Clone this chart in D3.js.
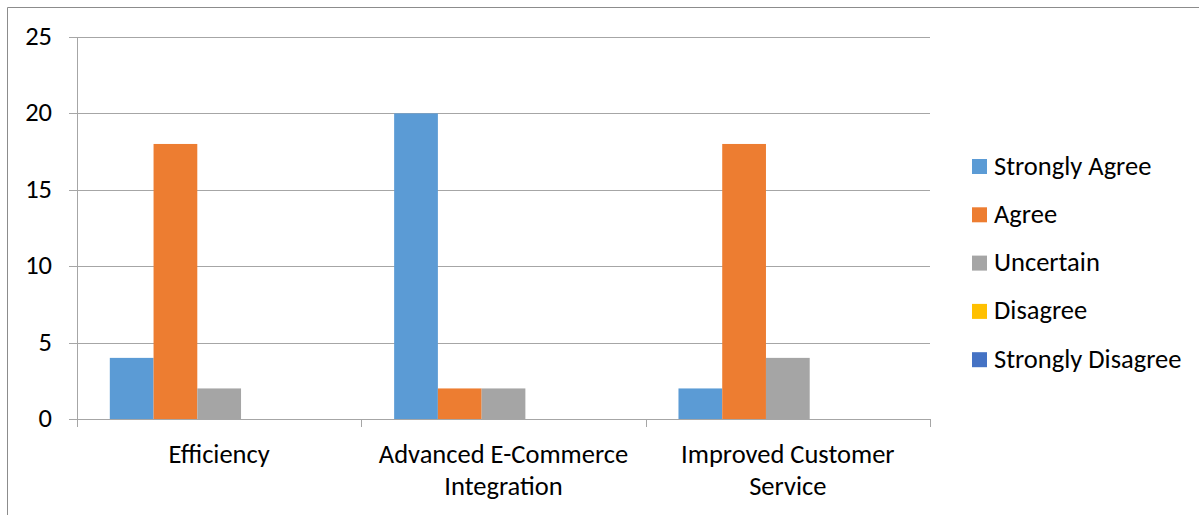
<!DOCTYPE html>
<html>
<head>
<meta charset="utf-8">
<script src="https://cdn.jsdelivr.net/npm/d3@7"></script>
<style>
  body { margin: 0; background: #fff; }
  text { font-family: Carlito, Calibri, "Open Sans", sans-serif; fill: #000; }
</style>
</head>
<body>
<svg id="chart" width="1199" height="515"></svg>
<script>
'use strict';
// data
var categories = [['Efficiency'], ['Advanced E-Commerce', 'Integration'], ['Improved Customer', 'Service']];
var seriesNames = ['Strongly Agree', 'Agree', 'Uncertain', 'Disagree', 'Strongly Disagree'];
var seriesColors = ['#5B9BD5', '#ED7D31', '#A5A5A5', '#FFC000', '#4472C4'];
var stronglyAgree = [4, 20, 2];
var agree = [18, 2, 18];
var uncertain = [2, 2, 4];
var disagree = [0, 0, 0];
var stronglyDisagree = [0, 0, 0];
var yTicks = [0, 5, 10, 15, 20, 25];

var series = [stronglyAgree, agree, uncertain, disagree, stronglyDisagree];

(function () {
var svg = d3.select('#chart');
var fontSize = '26.5px';

// chart frame (top + left only visible)
svg.append('line').attr('x1', 7.5).attr('x2', 1199).attr('y1', 7.5).attr('y2', 7.5)
  .attr('stroke', '#8c8c8c').attr('stroke-width', 1);
svg.append('line').attr('x1', 7.5).attr('x2', 7.5).attr('y1', 7.5).attr('y2', 515)
  .attr('stroke', '#8c8c8c').attr('stroke-width', 1);

var plotL = 77, plotR = 930, plotT = 37, plotB = 419;

var x0 = d3.scaleBand().domain(d3.range(categories.length)).range([plotL, plotR]).paddingInner(0).paddingOuter(0);
// excel gap width 150%: 5 bars + 1.5 gap
var bw = x0.bandwidth() / 6.5;
var y = d3.scaleLinear().domain([0, 25]).range([plotB, plotT]);

// gridlines
svg.append('g').selectAll('line').data(yTicks).enter().append('line')
  .attr('x1', plotL - 8).attr('x2', plotR)
  .attr('y1', function (d) { return Math.round(y(d)) + 0.5; })
  .attr('y2', function (d) { return Math.round(y(d)) + 0.5; })
  .attr('stroke', '#a6a6a6').attr('stroke-width', 1);

// y labels
svg.append('g').selectAll('text').data(yTicks).enter().append('text')
  .attr('x', 52).attr('y', function (d) { return y(d) + 8; })
  .attr('text-anchor', 'end')
  .style('font-size', fontSize)
  .text(function (d) { return d; });

// bars
var groups = svg.append('g').selectAll('g').data(categories).enter().append('g')
  .attr('transform', function (d, i) { return 'translate(' + x0(i) + ',0)'; });

groups.selectAll('rect').data(function (d, i) {
  return series.map(function (s, k) { return { k: k, v: s[i] }; });
}).enter().append('rect')
  .attr('x', function (d) { return 0.75 * bw + d.k * bw; })
  .attr('width', bw)
  .attr('y', function (d) { return y(d.v); })
  .attr('height', function (d) { return y(0) - y(d.v); })
  .attr('fill', function (d) { return seriesColors[d.k]; });

// axis lines
svg.append('line').attr('x1', plotL + 0.5).attr('x2', plotL + 0.5).attr('y1', plotT).attr('y2', plotB + 8)
  .attr('stroke', '#a6a6a6');
svg.append('line').attr('x1', plotL).attr('x2', plotR).attr('y1', Math.round(y(0)) + 0.5).attr('y2', Math.round(y(0)) + 0.5)
  .attr('stroke', '#a6a6a6');
svg.append('g').selectAll('line').data(d3.range(categories.length + 1)).enter().append('line')
  .attr('x1', function (i) { return Math.round(plotL + i * x0.bandwidth()) + 0.5; })
  .attr('x2', function (i) { return Math.round(plotL + i * x0.bandwidth()) + 0.5; })
  .attr('y1', plotB).attr('y2', plotB + 8)
  .attr('stroke', '#a6a6a6');

// category labels
var labels = svg.append('g').selectAll('text').data(categories).enter().append('text')
  .attr('text-anchor', 'middle')
  .style('font-size', fontSize)
  .attr('transform', function (d, i) { return 'translate(' + (x0(i) + x0.bandwidth() / 2) + ',0)'; });
labels.selectAll('tspan').data(function (d) { return d; }).enter().append('tspan')
  .attr('x', 0)
  .attr('y', function (d, j) { return 463 + j * 32; })
  .text(function (d) { return d; });

// legend
var legend = svg.append('g').selectAll('g').data(seriesNames).enter().append('g')
  .attr('transform', function (d, i) { return 'translate(972,' + (166.5 + i * 48.3) + ')'; });
legend.append('rect').attr('x', 0).attr('y', -7.5).attr('width', 15).attr('height', 15)
  .attr('fill', function (d, i) { return seriesColors[i]; });
legend.append('text').attr('x', 22).attr('y', 8)
  .style('font-size', fontSize)
  .text(function (d) { return d; });
})();
</script>
</body>
</html>
